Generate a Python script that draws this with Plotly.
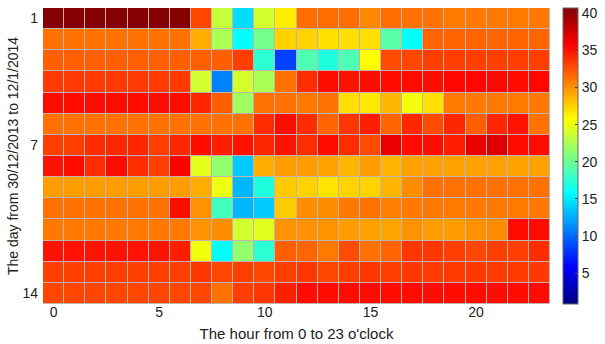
import plotly.graph_objects as go

hours = list(range(24))
days = list(range(1, 15))

day1 = [40.5, 40.5, 40.5, 40.5, 40.5, 40.5, 40.5, 33.0, 23.5, 14.5, 24.0, 26.5, 31.5, 31.5, 31.5, 30.5, 31.5, 31.3, 31.3, 31.0, 31.0, 31.0, 31.0, 31.0]
day2 = [31.3, 31.3, 31.3, 31.3, 31.3, 31.3, 31.3, 29.0, 22.5, 15.9, 20.3, 27.5, 27.5, 27.0, 27.0, 27.0, 19.3, 15.9, 31.8, 31.8, 31.8, 31.8, 31.8, 31.8]
day3 = [32.0, 32.0, 32.0, 32.0, 32.0, 32.0, 32.0, 32.0, 32.0, 33.3, 17.5, 8.4, 18.8, 17.0, 18.8, 25.8, 32.8, 33.0, 33.3, 33.3, 33.3, 33.3, 33.3, 33.3]
day4 = [33.5, 33.5, 33.5, 33.5, 33.5, 33.5, 33.5, 24.0, 10.9, 24.0, 22.5, 31.3, 34.0, 35.2, 35.0, 35.2, 35.3, 35.3, 35.3, 35.5, 35.5, 35.5, 35.3, 35.5]
day5 = [35.3, 35.3, 35.3, 35.3, 35.3, 35.3, 35.3, 34.2, 32.0, 22.0, 31.3, 31.3, 31.0, 31.3, 27.0, 26.6, 28.6, 25.3, 27.0, 31.0, 31.0, 31.0, 31.0, 31.0]
day6 = [31.3, 31.3, 31.3, 31.3, 31.3, 31.3, 31.3, 31.3, 31.3, 31.3, 34.0, 35.3, 34.0, 31.8, 33.6, 34.5, 31.8, 34.2, 32.8, 34.2, 32.0, 34.2, 35.0, 31.3]
day7 = [33.3, 33.3, 34.0, 34.2, 34.2, 33.3, 34.2, 35.3, 34.5, 35.0, 34.2, 35.0, 34.0, 35.3, 34.0, 32.8, 36.5, 35.3, 35.3, 34.5, 36.5, 37.0, 35.3, 35.3]
day8 = [35.0, 35.3, 34.0, 35.3, 34.0, 33.3, 35.7, 24.7, 21.5, 13.7, 29.0, 29.6, 29.6, 29.4, 28.7, 29.6, 28.7, 29.4, 29.4, 29.4, 29.4, 29.4, 29.4, 29.4]
day9 = [29.6, 29.6, 29.6, 29.6, 29.6, 29.6, 29.6, 29.0, 25.0, 13.0, 17.0, 27.8, 27.5, 26.8, 27.5, 27.5, 28.7, 30.2, 31.3, 31.3, 31.3, 31.3, 31.3, 31.3]
day10 = [31.3, 31.3, 31.3, 31.3, 31.3, 31.3, 35.3, 30.0, 18.3, 13.0, 13.7, 27.8, 30.2, 30.2, 31.0, 31.3, 30.7, 31.0, 31.0, 31.0, 31.0, 31.0, 31.0, 31.0]
day11 = [31.0, 31.0, 31.0, 31.0, 31.0, 31.0, 31.0, 30.0, 30.2, 24.0, 24.6, 30.0, 30.0, 30.0, 29.6, 29.4, 29.3, 30.0, 29.6, 29.6, 30.0, 30.3, 35.3, 35.3]
day12 = [35.0, 35.0, 35.0, 35.0, 35.0, 35.0, 34.5, 25.3, 15.9, 21.5, 17.5, 32.0, 31.8, 31.0, 32.8, 31.3, 31.8, 33.6, 33.6, 33.3, 33.0, 33.3, 33.3, 34.0]
day13 = [33.3, 33.3, 33.3, 33.3, 33.3, 33.3, 33.3, 33.6, 33.0, 33.3, 33.0, 33.3, 33.6, 33.0, 33.3, 33.6, 33.3, 33.6, 33.5, 33.5, 33.5, 33.5, 33.5, 33.5]
day14 = [33.0, 33.0, 33.0, 33.0, 33.0, 33.0, 33.0, 33.0, 31.3, 33.3, 33.6, 34.5, 35.3, 35.3, 35.3, 35.3, 35.3, 35.3, 35.3, 35.3, 35.3, 35.3, 35.3, 35.3]

temps = [day1, day2, day3, day4, day5, day6, day7, day8, day9, day10, day11, day12, day13, day14]

x_ticks = [0, 5, 10, 15, 20]
y_ticks = [1, 7, 14]
cbar_ticks = [5, 10, 15, 20, 25, 30, 35, 40]

jet = [
    [0.0, "rgb(0,0,128)"],
    [0.125, "rgb(0,0,255)"],
    [0.375, "rgb(0,255,255)"],
    [0.625, "rgb(255,255,0)"],
    [0.875, "rgb(255,0,0)"],
    [1.0, "rgb(128,0,0)"],
]

font = dict(family="Liberation Sans, Arial, sans-serif", size=14, color="#222222")
title_font = dict(family="Liberation Sans, Arial, sans-serif", size=15, color="#222222")

fig = go.Figure(
    go.Heatmap(
        x=hours,
        y=days,
        z=temps,
        colorscale=jet,
        zmin=0.85,
        zmax=40.7,
        xgap=1,
        ygap=1,
        colorbar=dict(
            x=1.0256,
            xanchor="left",
            y=0.5,
            yanchor="middle",
            len=1.0,
            thickness=15,
            outlinecolor="#666666",
            outlinewidth=1,
            tickvals=cbar_ticks,
            ticks="inside",
            ticklen=3,
            tickcolor="#444444",
            tickfont=font,
            xpad=0,
            ypad=0,
        ),
        hoverinfo="skip",
    )
)

fig.update_layout(
    width=605,
    height=344,
    margin=dict(l=43, r=55, t=8, b=40, autoexpand=False),
    paper_bgcolor="white",
    plot_bgcolor="#c4b4b0",
    font=font,
    xaxis=dict(
        tickvals=x_ticks,
        ticks="",
        showgrid=False,
        zeroline=False,
        range=[-0.5, 23.5],
        title=dict(text="The hour from 0 to 23 o'clock", font=title_font, standoff=9),
        automargin=False,
        tickfont=font,
        ticklabelstandoff=-2,
    ),
    yaxis=dict(
        tickvals=y_ticks,
        ticks="",
        showgrid=False,
        zeroline=False,
        range=[14.5, 0.5],
        title=dict(text="The day from 30/12/2013 to 12/1/2014", font=font, standoff=0),
        automargin=False,
        tickfont=font,
        ticklabelstandoff=4,
    ),
)

fig.write_html(
    "out.html",
    config={"displayModeBar": False},
    post_script="document.body.style.margin='0';",
)
